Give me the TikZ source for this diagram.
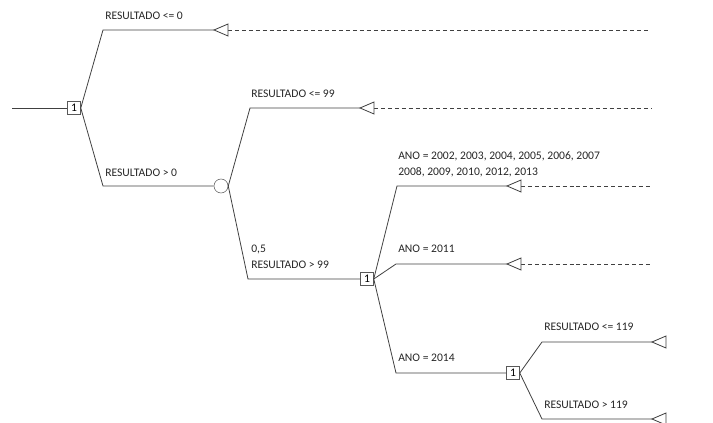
\documentclass[tikz,border=0pt]{standalone}
\usepackage{fontspec}
\setmainfont{Carlito}
\tikzset{
	dec/.style = {draw=black!65, fill=white, minimum size=9.75pt, inner sep=0pt, font=\fontsize{8.7}{10}\selectfont},
	chance/.style = {circle, draw=black!65, fill=white, minimum size=10.5pt, inner sep=0pt},
	lbl/.style = {anchor=base west, inner sep=0pt, text=black!85, font=\fontsize{8.7}{10}\selectfont},
	branch/.style = {draw=black!75, line width=0.6pt},
	cont/.style = {draw=black!75, line width=0.6pt, dash pattern=on 3pt off 2.2pt},
	endtri/.pic = {\draw[black!75, line width=0.6pt, fill=white] (0,0) -- (14,-6) -- (14,6) -- cycle;}
}
\begin{document}
\begin{tikzpicture}[x=0.75pt, y=-0.75pt]
	\useasboundingbox (0,0) rectangle (713,423);
%
	\coordinate (start) at (12,108);
	\node[dec] (d1) at (74,108) {1};
	\draw[branch] (start) -- (d1);
%
	% RESULTADO <= 0
	\coordinate (a1) at (103,30);
	\coordinate (t1) at (214,30);
	\coordinate (b1) at (228,30);
	\coordinate (e1) at (650,30);
	\draw[branch] (d1.east) -- (a1) -- (t1);
	\draw[cont] (b1) -- (e1);
	\pic at (t1) {endtri};
	\node[lbl] (l1) at (105,20) {RESULTADO <= 0};
%
	% RESULTADO > 0
	\coordinate (a2) at (103,186);
	\node[chance] (c1) at (221,186) {};
	\draw[branch] (d1.east) -- (a2) -- (c1);
	\node[lbl] (l2) at (105,177) {RESULTADO > 0};
%
	% RESULTADO <= 99
	\coordinate (a3) at (250,108);
	\coordinate (t3) at (360,108);
	\coordinate (b3) at (374,108);
	\coordinate (e3) at (652,108);
	\draw[branch] (c1.east) -- (a3) -- (t3);
	\draw[cont] (b3) -- (e3);
	\pic at (t3) {endtri};
	\node[lbl] (l3) at (251,98) {RESULTADO <= 99};
%
	% RESULTADO > 99
	\coordinate (a4) at (248,279);
	\node[dec] (d2) at (367,279) {1};
	\draw[branch] (c1.east) -- (a4) -- (d2);
	\node[lbl] (p4) at (251,253) {0,5};
	\node[lbl] (l4) at (251,269) {RESULTADO > 99};
%
	% ANO = 2002 ... 2013
	\coordinate (a5) at (397,186);
	\coordinate (t5) at (507,186);
	\coordinate (b5) at (521,186);
	\coordinate (e5) at (650,186);
	\draw[branch] (d2.east) -- (a5) -- (t5);
	\draw[cont] (b5) -- (e5);
	\pic at (t5) {endtri};
	\node[lbl] (l5) at (398,160) {ANO = 2002, 2003, 2004, 2005, 2006, 2007};
	\node[lbl] (m5) at (398,176) {2008, 2009, 2010, 2012, 2013};
%
	% ANO = 2011
	\coordinate (a6) at (396,264);
	\coordinate (t6) at (507,264);
	\coordinate (b6) at (521,264);
	\coordinate (e6) at (650,264);
	\draw[branch] (d2.east) -- (a6) -- (t6);
	\draw[cont] (b6) -- (e6);
	\pic at (t6) {endtri};
	\node[lbl] (l6) at (398,253) {ANO = 2011};
%
	% ANO = 2014
	\coordinate (a7) at (396,373);
	\node[dec] (d3) at (513,373) {1};
	\draw[branch] (d2.east) -- (a7) -- (d3);
	\node[lbl] (l7) at (398,362) {ANO = 2014};
%
	% RESULTADO <= 119
	\coordinate (a8) at (542,342);
	\coordinate (t8) at (652,342);
	\draw[branch] (d3.east) -- (a8) -- (t8);
	\pic at (t8) {endtri};
	\node[lbl] (l8) at (544,331) {RESULTADO <= 119};
%
	% RESULTADO > 119
	\coordinate (a9) at (542,419);
	\coordinate (t9) at (652,419);
	\draw[branch] (d3.east) -- (a9) -- (t9);
	\pic at (t9) {endtri};
	\node[lbl] (l9) at (544,408) {RESULTADO > 119};
%
\end{tikzpicture}
\end{document}
